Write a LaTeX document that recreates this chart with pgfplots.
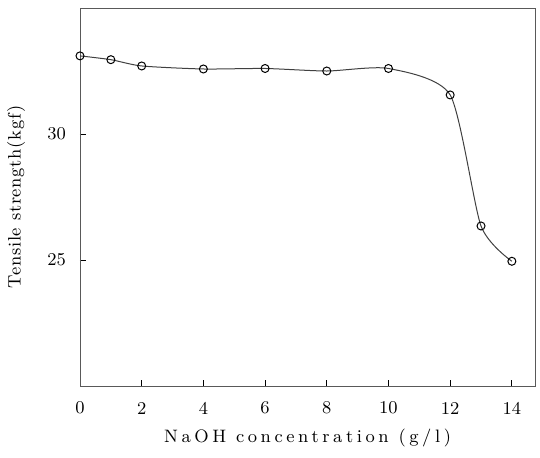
\documentclass[border=0pt]{standalone}
\usepackage{fontspec}
\setmainfont{Latin Modern Roman}
\usepackage{pgfplots}
\pgfplotsset{compat=1.18}
\begin{document}
\begin{tikzpicture}
\begin{axis}[
  width=227.5pt, height=189pt, scale only axis,
  xmin=0, xmax=14.75, ymin=20, ymax=35,
  xtick={0,2,...,14}, ytick={25,30},
  tick align=inside, xtick pos=bottom, ytick pos=left,
  major tick length=3pt,
  axis line style={gray!70!black, line width=0.4pt},
  tick style={black, line width=0.4pt},
  font=\fontsize{9}{11}\selectfont,
  /pgf/number format/assume math mode=true,
  xticklabel style={anchor=center, yshift=-11pt},
  yticklabel style={anchor=east, xshift=-3.5pt},
  xlabel={\addfontfeature{LetterSpace=20}NaOH concentration (g/l)},
  ylabel={\addfontfeature{LetterSpace=4}Tensile strength(kgf)},
  every axis x label/.style={at={(axis description cs:0.5,0)}, anchor=center, yshift=-26pt},
  every axis y label/.style={at={(axis description cs:0,0.5)}, anchor=center, rotate=90, yshift=32pt},
]
\addplot[black!75, line width=0.5pt, smooth, tension=0.4,
  mark=o, mark size=2pt, mark options={solid, black}]
  coordinates {(0,33.1) (1,32.95) (2,32.7) (4,32.58) (6,32.6) (8,32.5) (10,32.6) (12,31.55) (13,26.35) (14,24.95)};
\end{axis}
\useasboundingbox ([shift={(-40pt,-35.5pt)}]current axis.south west) rectangle ([shift={(2.5pt,4pt)}]current axis.north east);
\end{tikzpicture}
\end{document}
